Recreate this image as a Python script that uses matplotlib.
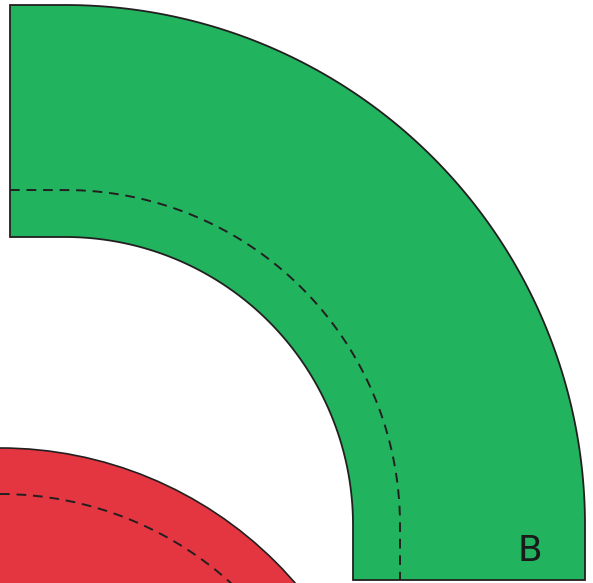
import numpy as np
import matplotlib.pyplot as plt
from matplotlib.patches import Polygon, Circle

# 画布尺寸（像素）
W, H = 593, 583

# 绿色弯道（B）几何参数
green_center = (65, 525)
green_outer_r = 520
green_inner_r = 288
green_dash_r = 335
green_left_x = 10
green_bottom_y = 580

# 红色弯道几何参数
red_center = (0, 838)
red_outer_r = 390
red_dash_r = 344

green_color = '#22b35e'
red_color = '#e33640'
edge_color = '#231f20'
label = 'B'


def arc(center, r, t0, t1, n=200):
    t = np.radians(np.linspace(t0, t1, n))
    return np.column_stack([center[0] + r * np.cos(t), center[1] - r * np.sin(t)])


fig = plt.figure(figsize=(W / 100, H / 100), dpi=100)
ax = fig.add_axes([0, 0, 1, 1])
ax.set_xlim(0, W)
ax.set_ylim(H, 0)
ax.axis('off')

# 红色部分
ax.add_patch(Circle(red_center, red_outer_r, facecolor=red_color, edgecolor=edge_color, lw=1.2))
ax.add_patch(Circle(red_center, red_dash_r, facecolor='none', edgecolor=edge_color, lw=1.4,
                    linestyle=(0, (5, 3.5))))

# 绿色弯道
cx, cy = green_center
outer = arc(green_center, green_outer_r, 90, 0)
inner = arc(green_center, green_inner_r, 0, 90)
pts = np.vstack([[[green_left_x, cy - green_outer_r]], outer,
                 [[cx + green_outer_r, green_bottom_y], [cx + green_inner_r, green_bottom_y]],
                 inner, [[green_left_x, cy - green_inner_r]]])
ax.add_patch(Polygon(pts, closed=True, facecolor=green_color, edgecolor=edge_color, lw=1.3,
                     joinstyle='miter'))

# 虚线
dash = np.vstack([[[green_left_x, cy - green_dash_r]], arc(green_center, green_dash_r, 90, 0),
                  [[cx + green_dash_r, green_bottom_y]]])
ax.plot(dash[:, 0], dash[:, 1], color=edge_color, lw=1.4, linestyle=(0, (5, 3.5)))

# 字母 B
ax.text(530, 551, label, fontsize=26, color='#1a1a1a', ha='center', va='center',
        family='DejaVu Sans', fontweight='normal')

plt.savefig('out.png', dpi=100)
